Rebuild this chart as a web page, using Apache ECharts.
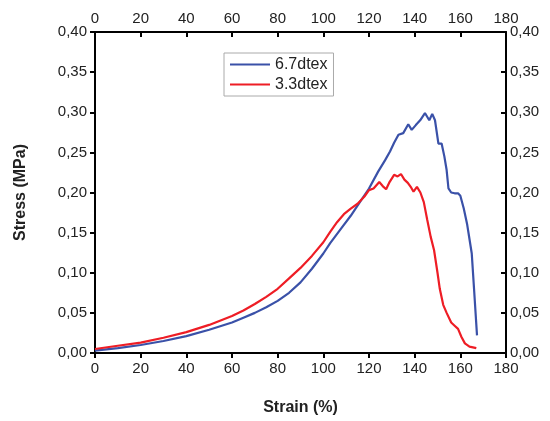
<!DOCTYPE html>
<html>
<head>
<meta charset="utf-8">
<script src="https://cdn.jsdelivr.net/npm/echarts@6/dist/echarts.min.js"></script>
<style>
  html, body { margin: 0; padding: 0; background: #fff; }
  #chart { width: 550px; height: 421px; }
</style>
</head>
<body>
<div id="chart"></div>
<script>
// Data
var strainTicks = [0, 20, 40, 60, 80, 100, 120, 140, 160, 180];

var strain67 = [0, 10, 20, 30, 40, 50, 60, 65, 70, 75, 80, 85, 90, 95, 100, 103, 108, 112, 116, 120, 124, 127, 129.2, 131, 132.9, 135, 137.2, 138.7, 140.5, 142.4, 144.5, 146.4, 147.7, 148.9, 150.4, 151.8, 153, 154, 154.8, 156, 157.5, 159, 160, 161.5, 163, 164, 165, 166, 167.3];
var stress67 = [0.003, 0.006, 0.010, 0.015, 0.021, 0.029, 0.038, 0.044, 0.050, 0.057, 0.065, 0.075, 0.088, 0.105, 0.124, 0.137, 0.156, 0.171, 0.188, 0.205, 0.226, 0.240, 0.251, 0.262, 0.272, 0.274, 0.285, 0.278, 0.284, 0.290, 0.299, 0.290, 0.298, 0.290, 0.261, 0.261, 0.245, 0.228, 0.205, 0.200, 0.199, 0.199, 0.196, 0.180, 0.160, 0.142, 0.124, 0.080, 0.022];

var strain33 = [0, 10, 20, 30, 40, 50, 60, 65, 70, 75, 80, 85, 90, 95, 100, 103, 106, 109, 112, 115, 118, 120, 122, 124.5, 126, 127.5, 129, 131, 132.5, 134, 135.5, 137, 138.5, 139.5, 141, 142.5, 144, 145.5, 147, 148.5, 150, 151, 152.5, 154, 156, 157.5, 159, 160.5, 162, 164, 167];
var stress33 = [0.005, 0.009, 0.013, 0.019, 0.026, 0.035, 0.046, 0.053, 0.061, 0.070, 0.080, 0.093, 0.106, 0.121, 0.138, 0.151, 0.163, 0.173, 0.180, 0.186, 0.195, 0.203, 0.205, 0.213, 0.208, 0.204, 0.213, 0.222, 0.220, 0.223, 0.216, 0.212, 0.206, 0.201, 0.207, 0.200, 0.188, 0.166, 0.145, 0.128, 0.100, 0.080, 0.060, 0.050, 0.038, 0.034, 0.030, 0.020, 0.012, 0.008, 0.006];

var seriesNames = ['6.7dtex', '3.3dtex'];

var pairs = function(xs, ys) {
    return xs.map(function(x, i) { return [x, ys[i]]; });
};

var commaFmt = function(v) {
    return v.toFixed(2).replace('.', ',');
};

var fontFam = 'Liberation Sans, Arial, sans-serif';

var chart = echarts.init(document.getElementById('chart'));

var baseX = {
    type: 'value',
    min: 0,
    max: 180,
    interval: 20,
    axisLine: { show: true, onZero: false, lineStyle: { color: '#000', width: 2 } },
    axisTick: { show: true, length: 5, lineStyle: { color: '#000', width: 2 } },
    axisLabel: { color: '#222', fontSize: 15, fontFamily: fontFam },
    splitLine: { show: false }
};

var baseY = {
    type: 'value',
    min: 0,
    max: 0.4,
    interval: 0.05,
    axisLine: { show: true, onZero: false, lineStyle: { color: '#000', width: 2 } },
    axisTick: { show: true, length: 5, lineStyle: { color: '#000', width: 2 } },
    axisLabel: { color: '#222', fontSize: 15, fontFamily: fontFam, formatter: commaFmt },
    splitLine: { show: false }
};

chart.setOption({
    animation: false,
    color: ['#3a51a8', '#ee1d25'],
    grid: { left: 95, right: 44, top: 32, bottom: 68 },

    legend: {
        data: seriesNames,
        icon: 'rect',
        orient: 'vertical',
        left: 224,
        top: 53,
        itemWidth: 40,
        itemHeight: 2,
        itemGap: 3,
        padding: [3, 6, 3, 6],
        borderColor: '#aaa',
        borderWidth: 1,
        textStyle: { color: '#222', fontSize: 16, lineHeight: 17, fontFamily: fontFam }
    },

    xAxis: [
        Object.assign({}, baseX, {
            position: 'bottom',
            name: 'Strain (%)',
            nameLocation: 'middle',
            nameGap: 47,
            nameTextStyle: { color: '#222', fontSize: 16, fontWeight: 'bold', fontFamily: fontFam },
            axisTick: { show: true, inside: false, length: 5, lineStyle: { color: '#000', width: 2 } },
            axisLabel: Object.assign({}, baseX.axisLabel, { margin: 8 })
        }),
        Object.assign({}, baseX, {
            position: 'top',
            axisTick: { show: true, inside: true, length: 5, lineStyle: { color: '#000', width: 2 } },
            axisLabel: Object.assign({}, baseX.axisLabel, { margin: 6 })
        })
    ],

    yAxis: [
        Object.assign({}, baseY, {
            position: 'left',
            name: 'Stress (MPa)',
            nameLocation: 'middle',
            nameGap: 66,
            nameRotate: 90,
            nameTextStyle: { color: '#222', fontSize: 16, fontWeight: 'bold', fontFamily: fontFam },
            axisTick: { show: true, inside: false, length: 5, lineStyle: { color: '#000', width: 2 } },
            axisLabel: Object.assign({}, baseY.axisLabel, { margin: 8 })
        }),
        Object.assign({}, baseY, {
            position: 'right',
            axisTick: { show: true, inside: true, length: 5, lineStyle: { color: '#000', width: 2 } },
            axisLabel: Object.assign({}, baseY.axisLabel, { margin: 4 })
        })
    ],

    series: [
        {
            name: seriesNames[0],
            type: 'line',
            xAxisIndex: 0,
            yAxisIndex: 0,
            data: pairs(strain67, stress67),
            showSymbol: false,
            symbol: 'none',
            lineStyle: { width: 2.2 },
            z: 2
        },
        {
            name: seriesNames[1],
            type: 'line',
            xAxisIndex: 0,
            yAxisIndex: 0,
            data: pairs(strain33, stress33),
            showSymbol: false,
            symbol: 'none',
            lineStyle: { width: 2.2 },
            z: 3
        }
    ]
});
</script>
</body>
</html>
